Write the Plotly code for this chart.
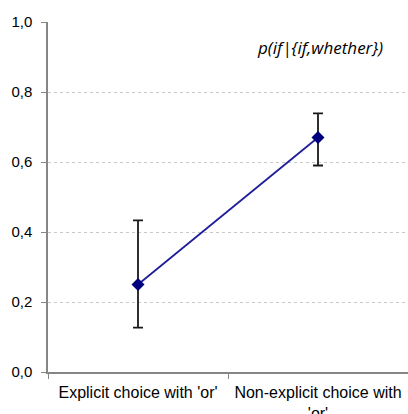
import plotly.graph_objects as go

categories = ["Explicit choice with 'or'", "Non-explicit choice with<br>'or'"]
values = [0.25, 0.67]
err_plus = [0.183, 0.069]
err_minus = [0.123, 0.08]
y_ticks = [0.0, 0.2, 0.4, 0.6, 0.8, 1.0]
label = "p(if|{if,whether})"

fig = go.Figure()
fig.add_trace(go.Scatter(
    x=categories, y=values, mode="lines+markers",
    line=dict(color="#1f1f9a", width=1.8),
    marker=dict(symbol="diamond", size=10, color="#00007f"),
    error_y=dict(type="data", symmetric=False, array=err_plus, arrayminus=err_minus,
                 color="#1a1a1a", thickness=1.8, width=5),
    showlegend=False,
))

fig.add_annotation(x=0.936, y=0.926, xref="paper", yref="paper", xanchor="right", yanchor="middle",
                   text="<i>" + label + "</i>", showarrow=False,
                   font=dict(family="Open Sans", size=17, color="#000000"))

fig.update_layout(
    width=408, height=414,
    margin=dict(l=48, r=0, t=22, b=42),
    plot_bgcolor="white", paper_bgcolor="white",
    separators=",.",
    font=dict(family="Liberation Sans, Arial", size=12, color="#000000"),
    xaxis=dict(type="category", range=[-0.5, 1.5], tickson="boundaries", ticks="outside", ticklen=5,
               tickcolor="#868686", showline=True, linecolor="#868686", linewidth=1.5,
               showgrid=False, tickfont=dict(size=16), ticklabelstandoff=5, automargin=False),
    yaxis=dict(range=[0, 1], tickvals=y_ticks, tickformat=".1f", ticks="outside", ticklen=5,
               tickcolor="#868686", showline=True, linecolor="#868686", linewidth=1.5,
               showgrid=True, gridcolor="#c8c8c8", griddash="dot", gridwidth=1,
               zeroline=False, tickfont=dict(size=15), ticklabelstandoff=6, automargin=False),
)

fig.write_html("out.html")
